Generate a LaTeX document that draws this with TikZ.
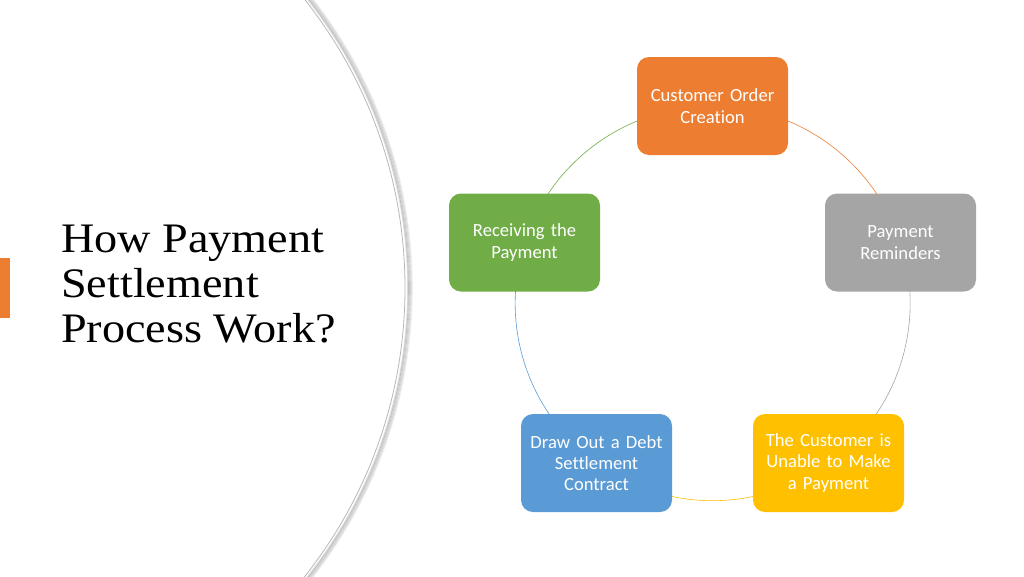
\documentclass[tikz,border=0pt]{standalone}
\usepackage{fontspec}
\usepackage{xcolor}
\usepackage{tikz}
\newfontfamily\boxfont[Ligatures=NoCommon]{Carlito}
\newfontfamily\headfont[FakeStretch=1.1]{Liberation Serif}
\definecolor{stepOrange}{HTML}{ED7D31}
\definecolor{stepGray}{HTML}{A5A5A5}
\definecolor{stepYellow}{HTML}{FFC000}
\definecolor{stepBlue}{HTML}{5B9BD5}
\definecolor{stepGreen}{HTML}{70AD47}
\pgfdeclarelayer{background}
\pgfsetlayers{background,main}

\begin{document}
\begin{tikzpicture}[
  x=1pt, y=-1pt,
  stepbox/.style={
    rounded corners=12pt,
    align=center,
    text width=140pt,
    minimum width=151pt,
    minimum height=98pt,
    inner sep=0pt,
    text=white,
    font=\boxfont\fontsize{18.6}{21.3}\selectfont
  },
  link/.style={line width=0.6pt},
  title/.style={anchor=north west, align=left, inner sep=0pt,
    font=\headfont\fontsize{42}{45}\selectfont}
]
\useasboundingbox (0,0) rectangle (1024,576);

% big white disc with soft shadow
\foreach \d/\o in {5/0.06,4/0.08,3/0.10,2/0.12,1/0.14}
  \draw[black, opacity=\o, line width=1.6pt] (-58,288) circle[radius=465+\d];
\fill[white] (-60,288) circle[radius=465];
\draw[black!28, line width=0.8pt] (-60,288) circle[radius=465];

\fill[stepOrange] (0,258) rectangle (10,318);
\node[title] (head) at (61,225) {How Payment\\Settlement\\Process Work?};

\node[stepbox, fill=stepOrange] (order) at (712.5,106) {Customer Order\\Creation};
\node[stepbox, fill=stepGray] (remind) at (900.5,242.5) {Payment\\Reminders};
\node[stepbox, fill=stepYellow] (unable) at (828.5,463) {The Customer is\\Unable to Make\\a Payment};
\node[stepbox, fill=stepBlue] (contract) at (596.5,463) {Draw Out a Debt\\Settlement\\Contract};
\node[stepbox, fill=stepGreen] (receive) at (524.5,242.5) {Receiving the\\Payment};

% cycle arcs, hidden under the boxes
\begin{pgfonlayer}{background}
\draw[link, stepOrange] (order.center) arc[start angle=270, end angle=342, radius=197.3];
\draw[link, stepGray] (remind.center) arc[start angle=342, end angle=414, radius=197.3];
\draw[link, stepYellow] (unable.center) arc[start angle=54, end angle=126, radius=197.3];
\draw[link, stepBlue] (contract.center) arc[start angle=126, end angle=198, radius=197.3];
\draw[link, stepGreen] (receive.center) arc[start angle=198, end angle=270, radius=197.3];
\end{pgfonlayer}
\end{tikzpicture}
\end{document}
